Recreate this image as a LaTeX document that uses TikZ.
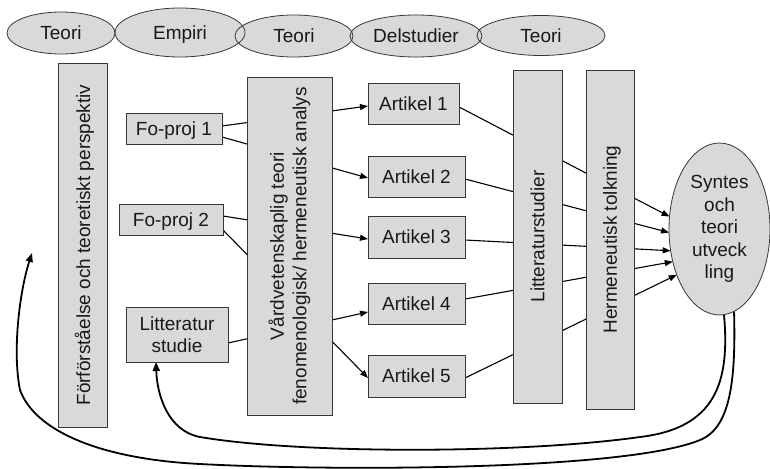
\documentclass[tikz,border=0pt]{standalone}
\usepackage{fontspec}
\setmainfont{Liberation Sans}
\usetikzlibrary{arrows.meta,shapes.geometric,backgrounds}
\definecolor{boxfill}{RGB}{217,217,217}
\definecolor{boxline}{RGB}{55,55,55}
\definecolor{ink}{RGB}{25,25,25}

\begin{document}
\begin{tikzpicture}[x=1pt,y=-1pt,
  every node/.style={font=\fontsize{19}{22.5}\selectfont, text=ink, inner sep=0pt, outer sep=0pt},
  box/.style={rectangle, draw=boxline, line width=0.8pt, fill=boxfill, align=center},
  flat/.style={text depth=0pt},
  ovalfill/.style={ellipse, fill=boxfill},
  ovalline/.style={ellipse, draw=boxline, line width=0.8pt, flat},
  link/.style={draw=black, line width=1.1pt},
  arrowlink/.style={link, -{Triangle[length=8pt,width=6pt]}},
  loopback/.style={draw=black, line width=1.8pt, -{Triangle[length=9pt,width=7pt]}},
]
\useasboundingbox (0,0) rectangle (770,468);

% phase labels along the top: fills first, then outlines and text
\def\toprow{61/33/108/42/Teori/ta, 180/32.5/130/49/Empiri/tb, 294/36/118/42/Teori/tc, 416/36/132/42/Delstudier/td, 541/35.5/128/40/Teori/te}
\foreach \x/\y/\w/\h/\t/\n in \toprow
  \node[ovalfill, minimum width=\w, minimum height=\h] at (\x,\y) {};
\foreach \x/\y/\w/\h/\t/\n in \toprow
  \node[ovalline, minimum width=\w, minimum height=\h] (\n) at (\x,\y) {\t};

% boxes
\node[box, flat, rotate=90, minimum width=364, minimum height=49] (pre) at (82.5,245) {Förförståelse och teoretiskt perspektiv};
\node[box, flat, minimum width=96, minimum height=31] (fo1) at (174,128.5) {Fo-proj 1};
\node[box, flat, minimum width=104, minimum height=31] (fo2) at (171,219.5) {Fo-proj 2};
\node[box, minimum width=102, minimum height=55] (lit) at (177,334.5) {Litteratur\\studie};
\node[box, rotate=90, minimum width=338, minimum height=85] (vard) at (289.5,246) {Vårdvetenskaplig teori\\fenomenologisk/ hermeneutisk analys};

\node[box, minimum width=91, minimum height=41] (a1) at (413.5,103.5) {Artikel 1};
\node[box, minimum width=97, minimum height=41] (a2) at (416.5,176.5) {Artikel 2};
\node[box, minimum width=97, minimum height=42] (a3) at (416.5,237) {Artikel 3};
\node[box, minimum width=97, minimum height=41] (a4) at (416.5,303.5) {Artikel 4};
\node[box, minimum width=97, minimum height=42] (a5) at (416.5,376) {Artikel 5};

\node[box, rotate=90, minimum width=333, minimum height=49] (litst) at (537.5,236.5) {Litteraturstudier};
\node[box, flat, rotate=90, minimum width=339, minimum height=48] (herm) at (610,239.5) {Hermeneutisk tolkning};

\node[ellipse, draw=boxline, fill=boxfill, line width=0.8pt, minimum width=101, minimum height=172, align=center] (syn) at (719.5,229) {Syntes\\och\\teori\\utveck\\ling};

\coordinate (back) at (32,253);

% connectors run behind the boxes
\begin{pgfonlayer}{background}
\draw[arrowlink] ([yshift=2.5pt]fo1.east) -- ([yshift=-2.5pt]a1.west);
\draw[arrowlink] ([yshift=-8.5pt]fo1.east) -- ([yshift=-1.5pt]a2.west);
\draw[arrowlink] ([yshift=3.5pt]fo2.east) -- ([yshift=-2pt]a3.west);
\draw[arrowlink] ([yshift=-10.5pt]fo2.east) -- ([yshift=-2pt]a5.west);
\draw[arrowlink] ([yshift=-8.5pt]lit.east) -- ([yshift=-8.5pt]a4.west);

\draw[arrowlink] ([yshift=-3.5pt]a1.east) -- (syn.166.4);
\draw[arrowlink] ([yshift=-2.5pt]a2.east) -- (syn.184.6);
\draw[arrowlink] ([yshift=-3pt]a3.east) -- (syn.204.5);
\draw[arrowlink] ([yshift=4.5pt]a4.east) -- (syn.215.5);
\draw[arrowlink] ([yshift=-2pt]a5.east) -- (syn.227.5);

% feedback loops from the synthesis
\draw[loopback] (syn.273.7) .. controls (730,382) and (716,428) .. (640,437)
  .. controls (520,454) and (300,454) .. (200,437)
  .. controls (168,431) and (157,395) .. ([xshift=-21pt]lit.south);
\draw[loopback] (syn.280.7) .. controls (736,382) and (730,428) .. (700,440)
  .. controls (625,471) and (330,471) .. (200,464)
  .. controls (100,459) and (35,431) .. (20,390)
  .. controls (12,350) and (20,290) .. (back);
\end{pgfonlayer}
\end{tikzpicture}
\end{document}
